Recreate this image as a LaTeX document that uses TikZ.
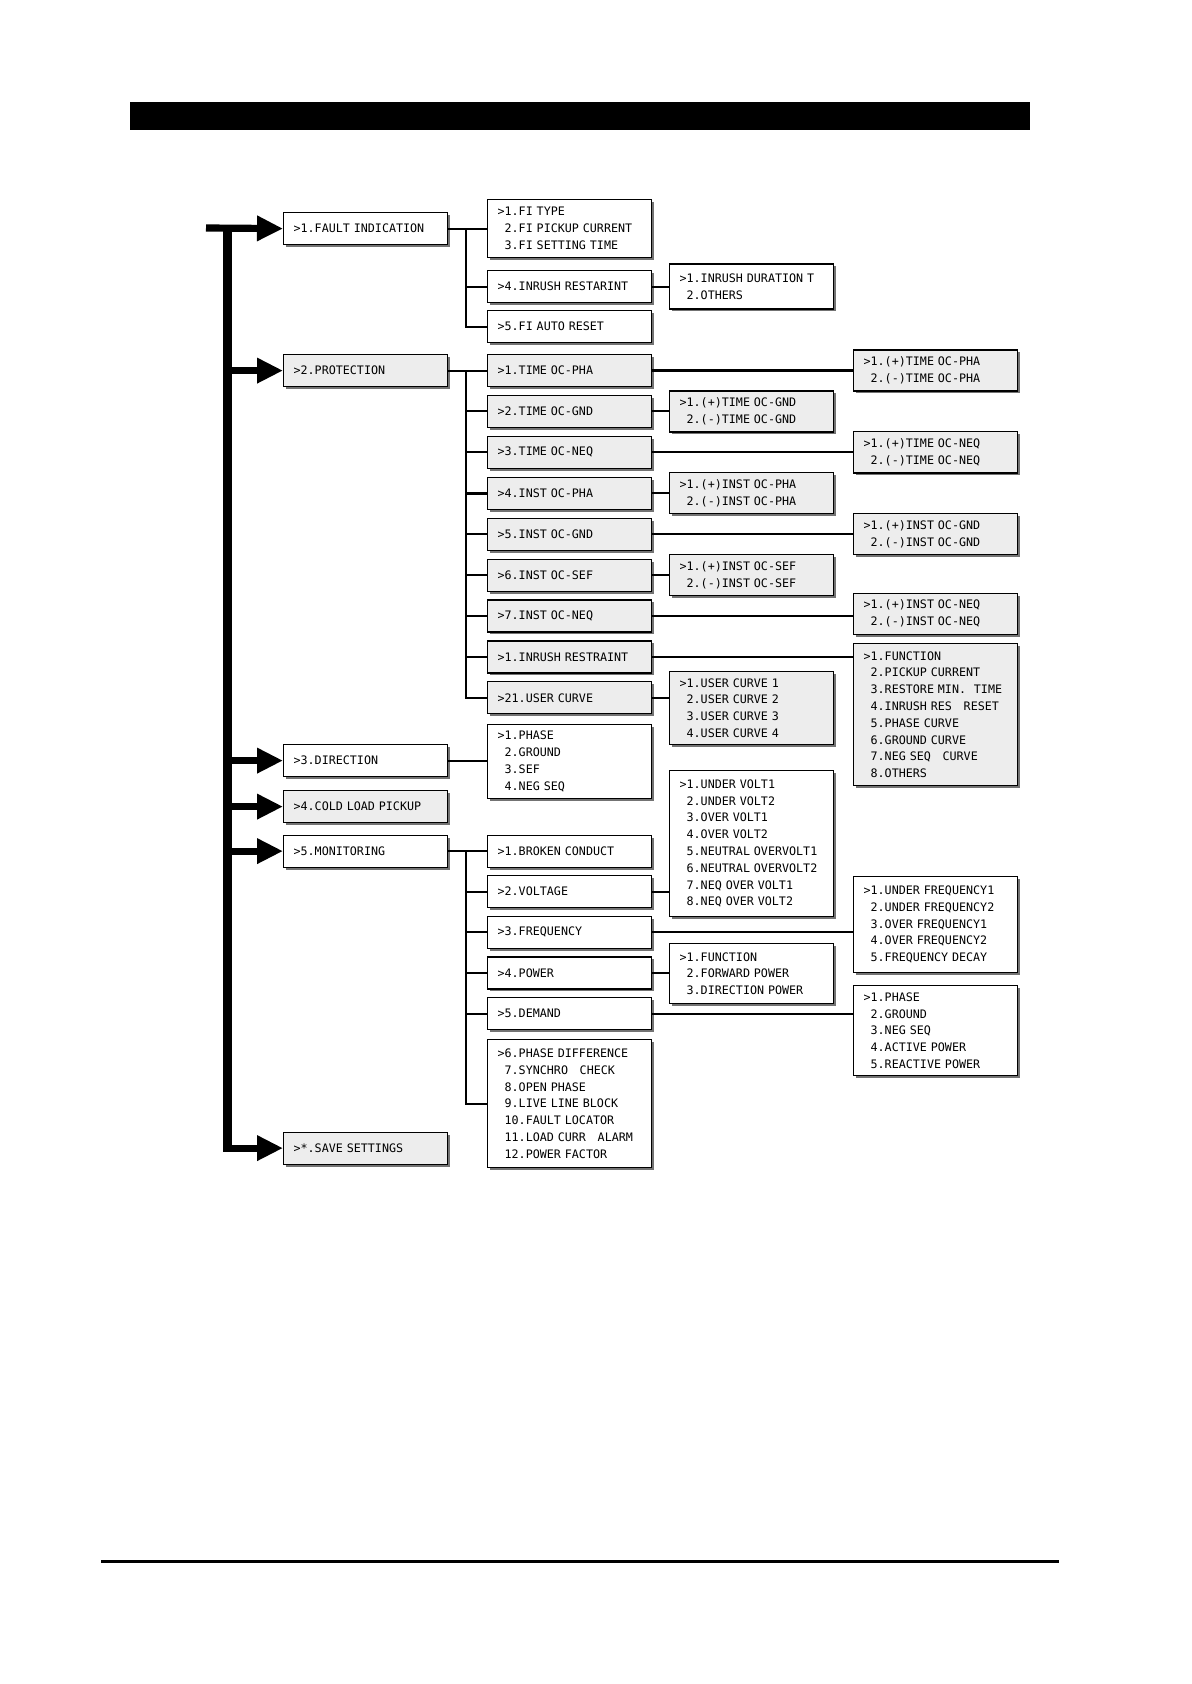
\documentclass[tikz,border=0pt]{standalone}
\usepackage{fontspec}
\newfontfamily\menufont{DejaVu Sans Mono}
\usetikzlibrary{arrows.meta,shadows}
\newcommand\mind{\phantom{>}}
\tikzset{
  menubox/.style={draw, line width=0.6pt, anchor=north west, minimum width=82pt,
    minimum height=16pt, inner xsep=5pt, inner ysep=0pt, text width=72pt, align=left,
    font=\menufont\fontsize{5.85}{8.4}\selectfont,
    execute at begin node={\rightskip=0pt plus 1fil minus 20pt\relax},
    drop shadow={shadow xshift=1.2pt, shadow yshift=-1.2pt, fill=black!55, opacity=1}},
  gbox/.style={menubox, fill=black!7},
  wbox/.style={menubox, fill=white},
  conn/.style={line width=1pt},
  thickconn/.style={line width=1.6pt},
  bus/.style={line width=4.5pt},
  busarrow/.style={line width=3.6pt, -{Triangle[length=13pt,width=12pt]}},
}
\begin{document}
\begin{tikzpicture}[x=0.5pt,y=-0.5pt]
\useasboundingbox (0,0) rectangle (1191,1684);
% header bar and footer rule
\fill (130,102) rectangle (1030,130);
\draw[line width=1.5pt] (101,1561) -- (1059,1561);

% level 1
\node[wbox] (fault) at (283,212) {>1.FAULT INDICATION};
\node[gbox] (prot)  at (283,354) {>2.PROTECTION};
\node[wbox] (dir)   at (283,744) {>3.DIRECTION};
\node[gbox] (cold)  at (283,790) {>4.COLD LOAD PICKUP};
\node[wbox] (mon)   at (283,834.5) {>5.MONITORING};
\node[gbox] (save)  at (283,1131.5) {>*.SAVE SETTINGS};

% fault indication group
\node[wbox, minimum height=29pt] (fi1) at (487,199) {>1.FI TYPE\\\mind 2.FI PICKUP CURRENT\\\mind 3.FI SETTING TIME};
\node[wbox] (fi4) at (487,270) {>4.INRUSH RESTARINT};
\node[wbox] (fi5) at (487,310) {>5.FI AUTO RESET};
\node[wbox, minimum height=22.5pt] (inrushdur) at (669,263.5) {>1.INRUSH DURATION T\\\mind 2.OTHERS};

% protection group
\node[gbox] (p1) at (487,354)   {>1.TIME OC-PHA};
\node[gbox] (p2) at (487,394.9) {>2.TIME OC-GND};
\node[gbox] (p3) at (487,435.8) {>3.TIME OC-NEQ};
\node[gbox] (p4) at (487,476.7) {>4.INST OC-PHA};
\node[gbox] (p5) at (487,517.6) {>5.INST OC-GND};
\node[gbox] (p6) at (487,558.5) {>6.INST OC-SEF};
\node[gbox] (p7) at (487,599.4) {>7.INST OC-NEQ};
\node[gbox] (p8) at (487,640.3) {>1.INRUSH RESTRAINT};
\node[gbox] (p9) at (487,681.2) {>21.USER CURVE};

\node[gbox, minimum height=20.5pt] (tgnd) at (669,390.4) {>1.(+)TIME OC-GND\\\mind 2.(-)TIME OC-GND};
\node[gbox, minimum height=20.5pt] (ipha) at (669,472.2) {>1.(+)INST OC-PHA\\\mind 2.(-)INST OC-PHA};
\node[gbox, minimum height=20.5pt] (isef) at (669,554) {>1.(+)INST OC-SEF\\\mind 2.(-)INST OC-SEF};
\node[gbox, minimum height=36.5pt] (ucurve) at (669,671) {>1.USER CURVE 1\\\mind 2.USER CURVE 2\\\mind 3.USER CURVE 3\\\mind 4.USER CURVE 4};

\node[gbox, minimum height=20.5pt] (tpha) at (853,349.5) {>1.(+)TIME OC-PHA\\\mind 2.(-)TIME OC-PHA};
\node[gbox, minimum height=20.5pt] (tneq) at (853,431.3) {>1.(+)TIME OC-NEQ\\\mind 2.(-)TIME OC-NEQ};
\node[gbox, minimum height=20.5pt] (ignd) at (853,513.1) {>1.(+)INST OC-GND\\\mind 2.(-)INST OC-GND};
\node[gbox, minimum height=20.5pt] (ineq) at (853,592.5) {>1.(+)INST OC-NEQ\\\mind 2.(-)INST OC-NEQ};
\node[gbox, minimum height=71pt] (func) at (853,643) {>1.FUNCTION\\\mind 2.PICKUP CURRENT\\\mind 3.RESTORE MIN.~~TIME\\\mind 4.INRUSH RES~~~RESET\\\mind 5.PHASE CURVE\\\mind 6.GROUND CURVE\\\mind 7.NEG SEQ~~~CURVE\\\mind 8.OTHERS};

% direction group
\node[wbox, minimum height=37pt] (dirsub) at (487,724) {>1.PHASE\\\mind 2.GROUND\\\mind 3.SEF\\\mind 4.NEG SEQ};

% monitoring group
\node[wbox] (m1) at (487,834.5) {>1.BROKEN CONDUCT};
\node[wbox] (m2) at (487,875.1) {>2.VOLTAGE};
\node[wbox] (m3) at (487,915.7) {>3.FREQUENCY};
\node[wbox] (m4) at (487,956.3) {>4.POWER};
\node[wbox] (m5) at (487,996.9) {>5.DEMAND};
\node[wbox, minimum height=64pt] (phdiff) at (487,1039) {>6.PHASE DIFFERENCE\\\mind 7.SYNCHRO~~~CHECK\\\mind 8.OPEN PHASE\\\mind 9.LIVE LINE BLOCK\\\mind 10.FAULT LOCATOR\\\mind 11.LOAD CURR~~~ALARM\\\mind 12.POWER FACTOR};

\node[wbox, minimum height=73pt] (volt) at (669,770) {>1.UNDER VOLT1\\\mind 2.UNDER VOLT2\\\mind 3.OVER VOLT1\\\mind 4.OVER VOLT2\\\mind 5.NEUTRAL OVERVOLT1\\\mind 6.NEUTRAL OVERVOLT2\\\mind 7.NEQ OVER VOLT1\\\mind 8.NEQ OVER VOLT2};
\node[wbox, minimum height=30pt] (power) at (669,943) {>1.FUNCTION\\\mind 2.FORWARD POWER\\\mind 3.DIRECTION POWER};
\node[wbox, minimum height=48pt] (freq) at (853,876) {>1.UNDER FREQUENCY1\\\mind 2.UNDER FREQUENCY2\\\mind 3.OVER FREQUENCY1\\\mind 4.OVER FREQUENCY2\\\mind 5.FREQUENCY DECAY};
\node[wbox, minimum height=45pt] (demand) at (853,985) {>1.PHASE\\\mind 2.GROUND\\\mind 3.NEG SEQ\\\mind 4.ACTIVE POWER\\\mind 5.REACTIVE POWER};

% main bus
\coordinate (busx) at (227,0);
\coordinate (busleft) at (206,228);
\draw[bus] (busx |- fault.west) -- ([yshift=-1.8pt]busx |- save.west);
\draw[busarrow] (busleft) -- (fault.west);
\foreach \n in {prot,dir,cold,mon,save} \draw[busarrow] (busx |- \n.west) -- (\n.west);

% trunk connectors
\coordinate (tx) at (466,0);
\draw[conn] (fault.east) -- (fi1.west);
\draw[conn] (tx |- fault.east) |- (fi5.west);
\draw[conn] (tx |- fi4.west) -- (fi4.west);
\draw[conn] (fi4.east) -- (inrushdur.west);

\draw[conn] (prot.east) -- (p1.west);
\draw[conn] (tx |- prot.east) |- (p9.west);
\foreach \n in {p2,p3,p5,p6,p7,p8} \draw[conn] (tx |- \n.west) -- (\n.west);
\draw[line width=1.3pt] (tx |- p4.west) -- (p4.west);

\draw[thickconn] (p1.east) -- (tpha.west);
\draw[conn] (p2.east) -- (tgnd.west);
\draw[conn] (p3.east) -- (tneq.west);
\draw[conn] (p4.east) -- (ipha.west);
\draw[conn] (p5.east) -- (ignd.west);
\draw[conn] (p6.east) -- (isef.west);
\draw[conn] (p7.east) -- (p7.east -| ineq.west);
\draw[conn] (p8.east) -- (p8.east -| func.west);
\draw[conn] (p9.east) -- (p9.east -| ucurve.west);

\draw[conn] (dir.east) -- (dir.east -| dirsub.west);

\draw[conn] (mon.east) -- (m1.west);
\draw[conn] (tx |- mon.east) |- (phdiff.west);
\foreach \n in {m2,m3,m4,m5} \draw[conn] (tx |- \n.west) -- (\n.west);
\draw[conn] (m2.east) -- (m2.east -| volt.west);
\draw[conn] (m3.east) -- (m3.east -| freq.west);
\draw[conn] (m4.east) -- (m4.east -| power.west);
\draw[conn] (m5.east) -- (m5.east -| demand.west);
\end{tikzpicture}
\end{document}
